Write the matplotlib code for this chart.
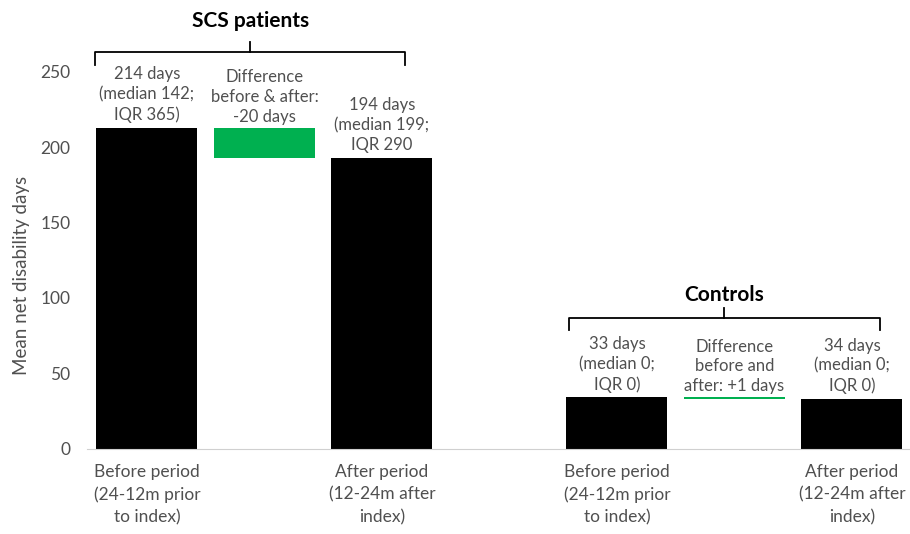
import matplotlib
matplotlib.use("Agg")
import matplotlib.pyplot as plt

# data
groups = ["SCS patients", "Controls"]
before_days = [213, 34]
after_days = [193, 33]
period_labels = ["Before period\n(24-12m prior\nto index)", "After period\n(12-24m after\nindex)"]
before_notes = ["214 days\n(median 142;\nIQR 365)", "33 days\n(median 0;\nIQR 0)"]
diff_notes = ["Difference\nbefore & after:\n-20 days", "Difference\nbefore and\nafter: +1 days"]
after_notes = ["194 days\n(median 199;\nIQR 290", "34 days\n(median 0;\nIQR 0)"]

GREY = "#505050"
GREEN = "#00B050"
plt.rcParams["font.family"] = ["Lato", "DejaVu Sans"]

fig = plt.figure(figsize=(9.1, 5.34), dpi=100)
ax = fig.add_axes([0.0956, 0.160, 0.9077, 0.7056])

width = 0.86
for g, name in enumerate(groups):
    x0 = g * 4
    b, a = before_days[g], after_days[g]
    ax.bar(x0, b, width, color="black")
    ax.bar(x0 + 2, a, width, color="black")
    ax.bar(x0 + 1, abs(b - a), width, bottom=min(a, b), color=GREEN)

    txt = dict(ha="center", va="bottom", color=GREY, fontsize=12, linespacing=1.3)
    ax.text(x0, b + 3, before_notes[g], **txt)
    ax.text(x0 + 1, max(a, b) + 2, diff_notes[g], **txt)
    ax.text(x0 + 2, a + 3, after_notes[g], **txt)

# brackets with group titles
brackets = [(-0.44, 2.2, 254.5, 263.3, 270.0, 277), (3.59, 6.24, 78.5, 86.4, 93.0, 95.5)]
for g, (xl, xr, ylo, ymid, ytop, ytitle) in enumerate(brackets):
    xc = (xl + xr) / 2
    ax.plot([xl, xl, xr, xr], [ylo, ymid, ymid, ylo], color="black", lw=1.3, clip_on=False)
    ax.plot([xc, xc], [ymid, ytop], color="black", lw=1.3, clip_on=False)
    ax.text(xc, ytitle, groups[g], ha="center", va="bottom", fontsize=15,
            fontweight="bold", color="black", clip_on=False)

ax.set_xlim(-0.51, 6.52)
ax.set_ylim(0, 250)
ax.set_yticks([0, 50, 100, 150, 200, 250])
ax.set_xticks([0, 2, 4, 6])
ax.set_xticklabels(period_labels * 2, fontsize=12.5, color=GREY, linespacing=1.5)
ax.tick_params(axis="y", length=0, labelsize=12.5, labelcolor=GREY, pad=12)
ax.tick_params(axis="x", length=0, pad=11)
for side in ["left", "right", "top"]:
    ax.spines[side].set_visible(False)
ax.spines["bottom"].set_color("#d0d0d0")
ax.set_ylabel("Mean net disability days", fontsize=13.5, color=GREY)
ax.yaxis.set_label_coords(-0.069, 0.46)

fig.savefig("out.png", dpi=100)
